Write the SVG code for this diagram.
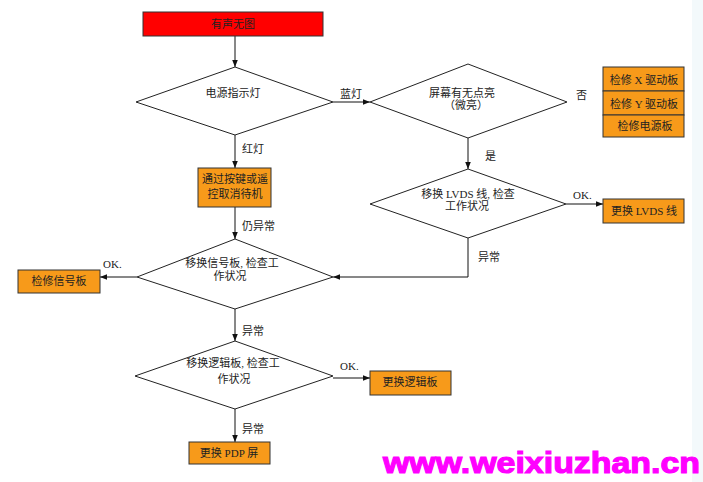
<svg xmlns="http://www.w3.org/2000/svg" width="703" height="482" viewBox="0 0 703 482">
<defs>
<style>
.t{font-family:"Liberation Serif","Noto Sans CJK SC",serif;font-size:11px;fill:#222;text-anchor:middle}
.l{font-family:"Liberation Serif","Noto Sans CJK SC",serif;font-size:11px;fill:#222}
.d{fill:#fff;stroke:#222;stroke-width:1}
.b{fill:#f79a1a;stroke:#333;stroke-width:1}
.c{fill:none;stroke:#111;stroke-width:1}
.wm{font-family:"Liberation Sans",Arial,sans-serif;font-weight:bold;font-size:30px;fill:#f0f;stroke:#f0f;stroke-width:1.2}
</style>
<marker id="a" viewBox="0 0 10 10" refX="10" refY="5" markerWidth="7" markerHeight="7" orient="auto" markerUnits="userSpaceOnUse">
<path d="M0,1 L10,5 L0,9 z" fill="#111"/>
</marker>
</defs>
<rect width="703" height="482" fill="#fff"/>
<rect x="692" y="0" width="11" height="482" fill="#f3f9fb"/>
<g id="connectors">
<path class="c" d="M235,36 V67" marker-end="url(#a)"/>
<path class="c" d="M333,102 H370" marker-end="url(#a)"/>
<path class="c" d="M468,138 V169" marker-end="url(#a)"/>
<path class="c" d="M566,204 H603" marker-end="url(#a)"/>
<path class="c" d="M468,238 V277 H333" marker-end="url(#a)"/>
<path class="c" d="M235,135 V168" marker-end="url(#a)"/>
<path class="c" d="M235,207 V239" marker-end="url(#a)"/>
<path class="c" d="M137,277 H100" marker-end="url(#a)"/>
<path class="c" d="M235,309 V341" marker-end="url(#a)"/>
<path class="c" d="M333,378 H370" marker-end="url(#a)"/>
<path class="c" d="M235,409 V442" marker-end="url(#a)"/>
<text class="l" x="340" y="98">蓝灯</text>
<text class="l" x="576" y="99">否</text>
<text class="l" x="485" y="160">是</text>
<text class="l" x="573" y="199">OK.</text>
<text class="l" x="478" y="261">异常</text>
<text class="l" x="242" y="153">红灯</text>
<text class="l" x="242" y="230">仍异常</text>
<text class="l" x="103" y="268">OK.</text>
<text class="l" x="242" y="335">异常</text>
<text class="l" x="340" y="370">OK.</text>
<text class="l" x="242" y="433">异常</text>
</g>
<g id="start">
<rect x="143" y="12" width="180" height="24" fill="#ff0000" stroke="#333"/>
<text class="t" x="233" y="28">有声无图</text>
</g>
<g id="power">
<polygon class="d" points="235,67 333,102 235,135 136,102"/>
<text class="t" x="233" y="97">电源指示灯</text>
</g>
<g id="screen">
<polygon class="d" points="468,64 567,102 468,138 370,102"/>
<text class="t" x="462" y="97">屏幕有无点亮</text>
<text class="t" x="466" y="109">（微亮）</text>
</g>
<g id="repairs">
<rect class="b" x="603" y="67" width="81" height="24"/>
<rect class="b" x="603" y="91" width="81" height="24"/>
<rect class="b" x="603" y="115" width="81" height="22"/>
<text class="t" x="644" y="84">检修 X 驱动板</text>
<text class="t" x="644" y="108">检修 Y 驱动板</text>
<text class="t" x="645" y="130">检修电源板</text>
</g>
<g id="lvds">
<polygon class="d" points="468,169 566,204 468,238 370,204"/>
<text class="t" x="468" y="198">移换 LVDS 线, 检查</text>
<text class="t" x="467" y="210">工作状况</text>
</g>
<g id="lvds-replace">
<rect class="b" x="603" y="199" width="81" height="24"/>
<text class="t" x="644" y="215">更换 LVDS 线</text>
</g>
<g id="standby">
<rect class="b" x="198" y="168" width="73" height="39"/>
<text class="t" x="235" y="183">通过按键或遥</text>
<text class="t" x="235" y="198">控取消待机</text>
</g>
<g id="signal">
<polygon class="d" points="235,239 333,277 235,309 137,277"/>
<text class="t" x="232" y="267">移换信号板, 检查工</text>
<text class="t" x="230" y="280">作状况</text>
</g>
<g id="signal-repair">
<rect class="b" x="18" y="270" width="82" height="23"/>
<text class="t" x="59" y="285">检修信号板</text>
</g>
<g id="logic">
<polygon class="d" points="235,341 333,376 235,409 135,376"/>
<text class="t" x="233" y="367">移换逻辑板, 检查工</text>
<text class="t" x="234" y="383">作状况</text>
</g>
<g id="logic-replace">
<rect class="b" x="370" y="371" width="81" height="24"/>
<text class="t" x="410" y="386">更换逻辑板</text>
</g>
<g id="pdp">
<rect class="b" x="189" y="442" width="81" height="22"/>
<text class="t" x="229" y="457">更换 PDP 屏</text>
</g>
<text class="wm" x="383" y="473" textLength="317" lengthAdjust="spacingAndGlyphs">www.weixiuzhan.cn</text>
</svg>
